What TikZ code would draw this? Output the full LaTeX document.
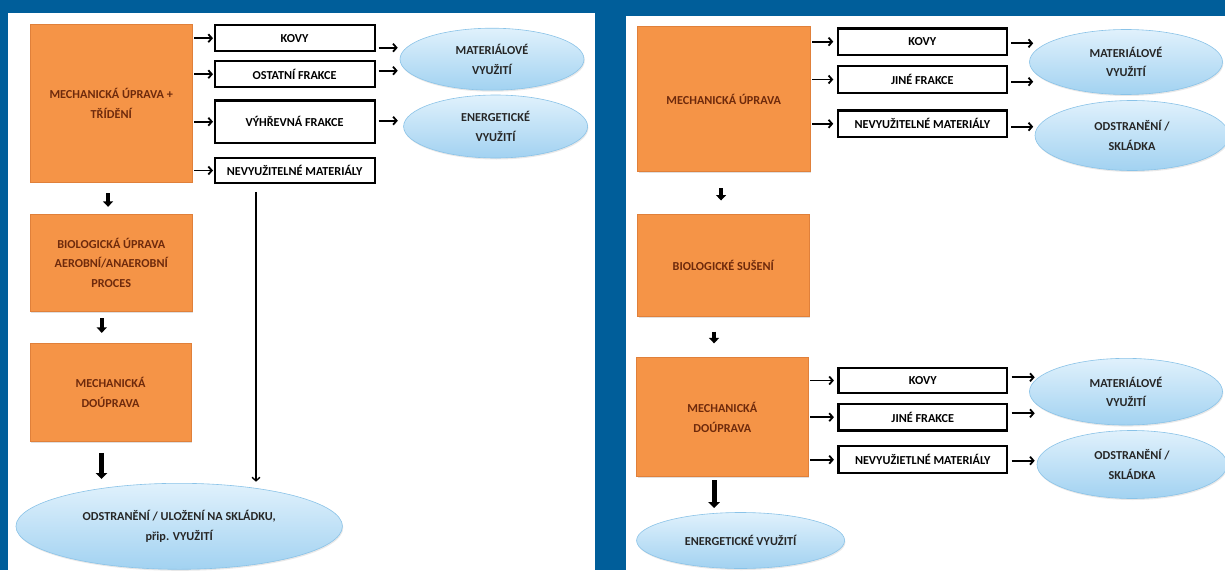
\documentclass[tikz,border=0pt]{standalone}
\usepackage{fontspec}
\setmainfont{Carlito}
\usetikzlibrary{arrows.meta,shapes.geometric,shadows}
\definecolor{bgblue}{HTML}{005E9A}
\definecolor{orangefill}{HTML}{F59447}
\definecolor{orangeedge}{HTML}{E0803A}
\definecolor{browntext}{HTML}{6E2A0C}
\definecolor{elltop}{HTML}{E0F1FC}
\definecolor{ellbot}{HTML}{A2D2F1}
\definecolor{ellborder}{HTML}{8AC3E8}
\definecolor{elltext}{HTML}{262626}
\newcommand\txtfont{\bfseries\fontsize{12.2}{19.5}\selectfont}
\tikzset{
  obox/.style={rectangle, draw=orangeedge, line width=0.6pt, fill=orangefill, text=browntext,
    font=\txtfont, align=center, inner sep=0pt,
    drop shadow={opacity=0.25, shadow xshift=1.2pt, shadow yshift=-1.2pt}},
  wbox/.style={rectangle, draw=black, line width=2.2pt, fill=white, text=black,
    font=\txtfont, align=center, inner sep=0pt},
  ell/.style={ellipse, draw=ellborder, line width=0.6pt, top color=elltop, bottom color=ellbot,
    text=elltext, font=\txtfont, align=center, inner sep=0pt,
    drop shadow={opacity=0.18, shadow xshift=0.8pt, shadow yshift=-1.5pt}},
  arr/.style={line width=1.9pt, -{Straight Barb[length=3.5pt,width=8pt,line width=1.8pt]}},
  darr/.style={line width=3.6pt, -{Triangle[length=5.5pt,width=10pt]}},
  darrbig/.style={line width=5pt, -{Triangle[length=6pt,width=11.5pt]}},
  vline/.style={line width=1.4pt, -{Straight Barb[length=3.5pt,width=8pt,line width=1.4pt]}}
}
\begin{document}
\begin{tikzpicture}[x=1pt,y=-1pt]
\useasboundingbox (0,0) rectangle (1225,570);
\fill[bgblue] (0,0) rectangle (1225,570);
\fill[white] (7.5,13) rectangle (595,570);
\fill[white] (626,15.5) rectangle (1225,570);

% ---------------- left panel ----------------
\node[obox, minimum width=162, minimum height=158] (m1) at (111.25,103.2) {MECHANICKÁ ÚPRAVA +\\TŘÍDĚNÍ};
\node[wbox, minimum width=160, minimum height=26] (k1) at (294.6,38.2) {KOVY};
\node[wbox, minimum width=160, minimum height=26] (o1) at (294.6,74.2) {OSTATNÍ FRAKCE};
\node[wbox, minimum width=160, minimum height=42.5] (v1) at (294.6,121.7) {VÝHŘEVNÁ FRAKCE};
\node[wbox, minimum width=160, minimum height=25.5] (n1) at (294.6,170.5) {NEVYUŽITELNÉ MATERIÁLY};
\node[ell, minimum width=184, minimum height=62] (e1) at (492,59.2) {MATERIÁLOVÉ\\VYUŽITÍ};
\node[ell, minimum width=184, minimum height=63] (e2) at (495.6,126.5) {ENERGETICKÉ\\VYUŽITÍ};
\node[obox, minimum width=162, minimum height=97.5] (b1) at (111.25,262.9) {BIOLOGICKÁ ÚPRAVA\\AEROBNÍ/ANAEROBNÍ\\PROCES};
\node[obox, minimum width=161, minimum height=98] (d1) at (110.5,392.5) {MECHANICKÁ\\DOÚPRAVA};
\node[ell, minimum width=326.5, minimum height=86] (f1) at (179.2,526.3) {ODSTRANĚNÍ / ULOŽENÍ NA SKLÁDKU,\\přip. VYUŽITÍ};

\draw[arr, shorten <=1.5pt, shorten >=0.5pt] (m1.east |- k1) -- (k1.west);
\draw[arr, shorten <=1.5pt, shorten >=0.5pt] (m1.east |- o1) -- (o1.west);
\draw[arr, shorten <=1.5pt, shorten >=0.5pt] (m1.east |- v1) -- (v1.west);
\draw[arr, shorten <=1.5pt, shorten >=0.5pt] (m1.east |- n1) -- (n1.west);

\coordinate (ya) at (0,47.7);
\coordinate (yb) at (0,70.7);
\coordinate (yc) at (0,120.7);
\draw[arr, shorten <=3pt, shorten >=2pt] (k1.east |- ya) -- (e1.west |- ya);
\draw[arr, shorten <=3pt, shorten >=2pt] (o1.east |- yb) -- (e1.west |- yb);
\draw[arr, shorten <=3pt, shorten >=5.5pt] (v1.east |- yc) -- (e2.west |- yc);

\draw[darr, shorten <=10.7pt, shorten >=7pt] ([xshift=-3.2pt]m1.south) -- ([xshift=-3.2pt]m1.south |- b1.north);
\draw[darr, shorten <=6.3pt, shorten >=10.3pt] ([xshift=-9.5pt]b1.south) -- ([xshift=-9.5pt]b1.south |- d1.north);
\draw[darrbig, shorten <=11pt, shorten >=4pt] ([xshift=-9pt]d1.south) -- ([xshift=-9pt]d1.south |- f1.north);

\coordinate (xl) at (256,0);
\draw[vline, shorten <=7.4pt, shorten >=1.3pt] (n1.south -| xl) -- (f1.north -| xl);

% ---------------- right panel ----------------
\node[obox, minimum width=172.5, minimum height=145] (M1) at (723.75,99.2) {MECHANICKÁ ÚPRAVA};
\node[wbox, minimum width=169, minimum height=26.5] (K2) at (922.35,41.65) {KOVY};
\node[wbox, minimum width=169, minimum height=26.5] (J2) at (922.35,79.5) {JINÉ FRAKCE};
\node[wbox, minimum width=169, minimum height=26.5] (N2) at (922.35,123.8) {NEVYUŽITELNÉ MATERIÁLY};
\node[ell, minimum width=193, minimum height=65] (E3) at (1126,62) {MATERIÁLOVÉ\\VYUŽITÍ};
\node[ell, minimum width=194, minimum height=70] (E4) at (1132,135.5) {ODSTRANĚNÍ /\\SKLÁDKA};
\node[obox, minimum width=171.5, minimum height=102.4] (B2) at (723.25,265.5) {BIOLOGICKÉ SUŠENÍ};
\node[obox, minimum width=171.3, minimum height=119] (D2) at (722.35,417.2) {MECHANICKÁ\\DOÚPRAVA};
\node[wbox, minimum width=168.5, minimum height=25.5] (K3) at (922.75,380.5) {KOVY};
\node[wbox, minimum width=168.5, minimum height=26.5] (J3) at (922.75,417.2) {JINÉ FRAKCE};
\node[wbox, minimum width=168.5, minimum height=27] (N3) at (922.75,459.7) {NEVYUŽIETLNÉ MATERIÁLY};
\node[ell, minimum width=193, minimum height=66.7] (E5) at (1126,391.7) {MATERIÁLOVÉ\\VYUŽITÍ};
\node[ell, minimum width=190, minimum height=68] (E6) at (1132,464.5) {ODSTRANĚNÍ /\\SKLÁDKA};
\node[ell, minimum width=208, minimum height=56] (G) at (740.6,540.5) {ENERGETICKÉ VYUŽITÍ};

\draw[arr, shorten <=2pt, shorten >=3.5pt] (M1.east |- K2) -- (K2.west);
\draw[arr, shorten <=2pt, shorten >=3.5pt] (M1.east |- J2) -- (J2.west);
\draw[arr, shorten <=2pt, shorten >=3.5pt] (M1.east |- N2) -- (N2.west);

\coordinate (yd) at (0,43.3);
\coordinate (ye) at (0,81.7);
\coordinate (yf) at (0,126.7);
\draw[arr, shorten <=3.5pt, shorten >=-4pt] (K2.east |- yd) -- (E3.west |- yd);
\draw[arr, shorten <=3.5pt, shorten >=-4pt] (J2.east |- ye) -- (E3.west |- ye);
\draw[arr, shorten <=3.5pt, shorten >=1.5pt] (N2.east |- yf) -- (E4.west |- yf);

\draw[arr, shorten <=2pt, shorten >=3.5pt] (D2.east |- K3) -- (K3.west);
\draw[arr, shorten <=2pt, shorten >=3.5pt] (D2.east |- J3) -- (J3.west);
\draw[arr, shorten <=2pt, shorten >=3.5pt] (D2.east |- N3) -- (N3.west);

\coordinate (yg) at (0,377.3);
\coordinate (yh) at (0,413.3);
\coordinate (yi) at (0,460.7);
\draw[arr, shorten <=3.5pt, shorten >=-5.5pt] (K3.east |- yg) -- (E5.west |- yg);
\draw[arr, shorten <=3.5pt, shorten >=-5.5pt] (J3.east |- yh) -- (E5.west |- yh);
\draw[arr, shorten <=3.5pt, shorten >=2pt] (N3.east |- yi) -- (E6.west |- yi);

\draw[darr, shorten <=16pt, shorten >=13.5pt] ([xshift=-2.7pt]M1.south) -- ([xshift=-2.7pt]M1.south |- B2.north);
\draw[darr, shorten <=14.5pt, shorten >=14pt] ([xshift=-9.2pt]B2.south) -- ([xshift=-9.2pt]B2.south |- D2.north);
\draw[darrbig, shorten <=3.3pt, shorten >=4.2pt] ([xshift=-8.3pt]D2.south) -- ([xshift=-8.3pt]D2.south |- G.north);
\end{tikzpicture}
\end{document}
